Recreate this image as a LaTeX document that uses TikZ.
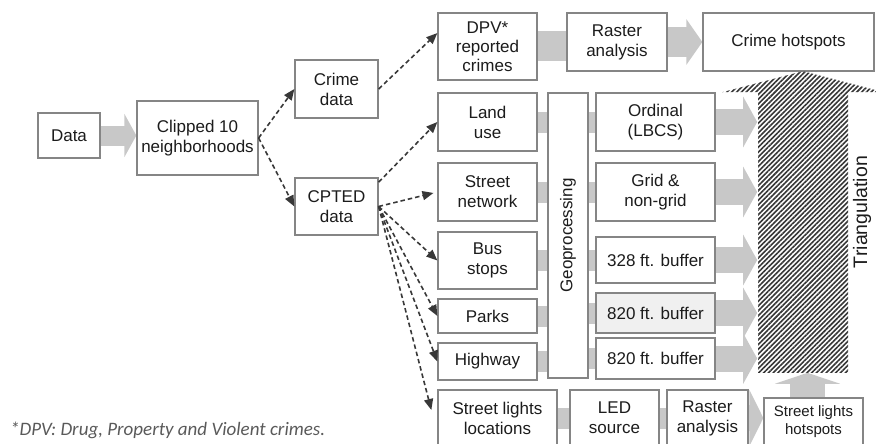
\documentclass[tikz,border=0pt]{standalone}
\usepackage{fontspec}
\setmainfont{Liberation Sans}
\newfontfamily\notefont{Carlito}
\usepackage{xcolor}
\usepackage{tikz}
\usetikzlibrary{calc}
\usetikzlibrary{arrows.meta}
\usetikzlibrary{backgrounds}
\usetikzlibrary{patterns.meta}

\definecolor{boxline}{HTML}{858585}
\definecolor{bandgray}{HTML}{C8C8C8}
\definecolor{dashgray}{HTML}{383838}
\definecolor{textgray}{HTML}{1C1C1C}
\definecolor{hatchgray}{HTML}{363636}
\definecolor{notegray}{HTML}{5A5A5A}

\begin{document}
\begin{tikzpicture}[x=1pt,y=-1pt]

    \tikzstyle{flow box}=[draw=boxline,line width=1.3pt,fill=white,text=textgray,align=center,inner sep=0pt,font=\fontsize{17}{20}\selectfont]
    \tikzstyle{small box}=[flow box,font=\fontsize{15}{18}\selectfont]
    \tikzstyle{dash link}=[-{Triangle[length=11pt,width=9pt]},dash pattern=on 4.5pt off 3pt,line width=1.6pt,color=dashgray]
    \tikzstyle{band}=[line width=21pt,color=bandgray]
    \tikzstyle{fat arrow}=[line width=26pt,color=bandgray,-{Triangle[length=14pt,width=50pt]}]
    \tikzstyle{hatched}=[pattern={Lines[angle=45,distance=3.4pt,line width=1.6pt]},pattern color=hatchgray]

    \useasboundingbox (0,0) rectangle (876,444);
    \clip (0,0) rectangle (876,444);

    % Data and study area
    \node[flow box,minimum width=62pt,minimum height=45pt] (data) at (69,135.5) {Data};
    \node[flow box,minimum width=121pt,minimum height=74pt] (clipped) at (197.5,138) {Clipped 10\\neighborhoods};
    \node[flow box,minimum width=83pt,minimum height=58pt] (crime) at (336.5,89) {Crime\\data};
    \node[flow box,minimum width=83pt,minimum height=57pt] (cpted) at (336.5,206.5) {CPTED\\data};

    % Crime branch
    \node[flow box,minimum width=99pt,minimum height=67pt,font=\fontsize{17}{19}\selectfont] (dpv) at (487.5,46.5) {DPV*\\reported\\crimes};
    \node[flow box,minimum width=100pt,minimum height=58pt] (raster1) at (617,42) {Raster\\analysis};
    \node[flow box,minimum width=171pt,minimum height=58pt] (hotspots) at (788.5,42) {Crime hotspots};

    % CPTED layers
    \node[flow box,minimum width=99pt,minimum height=58pt] (land) at (487.5,122) {Land\\use};
    \node[flow box,minimum width=99pt,minimum height=58pt] (street) at (487.5,192) {Street\\network};
    \node[flow box,minimum width=99pt,minimum height=57pt] (bus) at (487.5,260.5) {Bus\\stops};
    \node[flow box,minimum width=99pt,minimum height=34pt] (parks) at (487.5,316) {Parks};
    \node[flow box,minimum width=99pt,minimum height=37pt] (highway) at (487.5,361.5) {Highway};

    \node[flow box,minimum width=40pt,minimum height=285pt] (geo) at (568,235.5) {};
    \node[rotate=90,text=textgray,font=\fontsize{17}{20}\selectfont] (geolabel) at (geo.center) {Geoprocessing};

    \node[flow box,minimum width=119pt,minimum height=58pt] (ordinal) at (655.5,122) {Ordinal\\(LBCS)};
    \node[flow box,minimum width=119pt,minimum height=58pt] (grid) at (655.5,192) {Grid \&\\non-grid};
    \node[flow box,minimum width=119pt,minimum height=46pt] (buf328) at (655.5,260) {328 ft. buffer};
    \node[flow box,minimum width=119pt,minimum height=40pt,fill=black!6] (bufA) at (655.5,313) {820 ft. buffer};
    \node[flow box,minimum width=119pt,minimum height=41pt] (bufB) at (655.5,358.5) {820 ft. buffer};

    % Street lights row
    \node[flow box,minimum width=119pt,minimum height=56pt] (sll) at (497.5,418) {Street lights\\locations};
    \node[flow box,minimum width=89pt,minimum height=56pt] (led) at (614.5,418) {LED\\source};
    \node[flow box,minimum width=81pt,minimum height=56pt] (raster2) at (707.5,418) {Raster\\analysis};
    \node[small box,minimum width=99pt,minimum height=48pt] (slh) at (813.5,422) {Street lights\\hotspots};

    % Triangulation arrow
    \node[hatched,minimum width=90pt,minimum height=279pt,inner sep=0pt] (tri) at (803,232.5) {};
    \fill[hatched] ($(tri.north west)+(-35,0)$) -- ($(tri.north)+(0,-21)$) -- ($(tri.north east)+(35,0)$) -- cycle;
    \node[rotate=90,text=textgray,font=\fontsize{19.5}{22}\selectfont] (trilabel) at (862,212) {Triangulation};

    % Dashed links
    \draw[dash link] (clipped.east) -- (crime.west);
    \draw[dash link] (clipped.east) -- (cpted.west);
    \draw[dash link] (crime.east) -- (dpv.165);
    \draw[dash link] (cpted.30) -- (land.west);
    \draw[dash link,shorten >=4pt] (cpted.east) -- (street.west);
    \foreach \t in {bus,parks,highway}
        \draw[dash link] (cpted.east) -- (\t.west);
    \draw[dash link] (cpted.east) -- ($(sll.west)+(-6,-8)$);

    % Grey flows behind the boxes
    \begin{scope}[on background layer]
        \draw[fat arrow,line width=20pt,-{Triangle[length=12pt,width=43pt]}] (data.east) -- (data.east -| clipped.west);
        \draw[band,line width=30pt] (dpv.east) -- (dpv.east -| raster1.west);
        \draw[fat arrow,line width=30pt,-{Triangle[length=16pt,width=45pt]}] (raster1.east) -- (raster1.east -| hotspots.west);
        \foreach \a/\b in {land/ordinal,street/grid,bus/buf328,parks/bufA,highway/bufB} {
            \draw[band] (\a.east) -- (\a.east -| geo.west);
            \draw[band] (geo.east |- \b.west) -- (\b.west);
            \draw[fat arrow] (\b.east) -- (\b.east -| tri.west);
        }
        \draw[band] (sll.east) -- (sll.east -| led.west);
        \draw[band] (led.east) -- (led.east -| raster2.west);
        \draw[fat arrow,-{Triangle[length=14pt,width=56pt]}] (raster2.east) -- (raster2.east -| slh.west);
        \draw[fat arrow,line width=35pt,-{Triangle[length=11pt,width=65pt]}] ($(slh.north)+(-6,0)$) -- ($(slh.north |- tri.south)+(-6,0)$);
    \end{scope}

    % Footnote
    \node[anchor=base west,inner sep=0pt,text=notegray,font=\notefont\itshape\fontsize{19}{22}\selectfont] (note) at (10,435) {*DPV: Drug, Property and Violent crimes.};

\end{tikzpicture}
\end{document}
